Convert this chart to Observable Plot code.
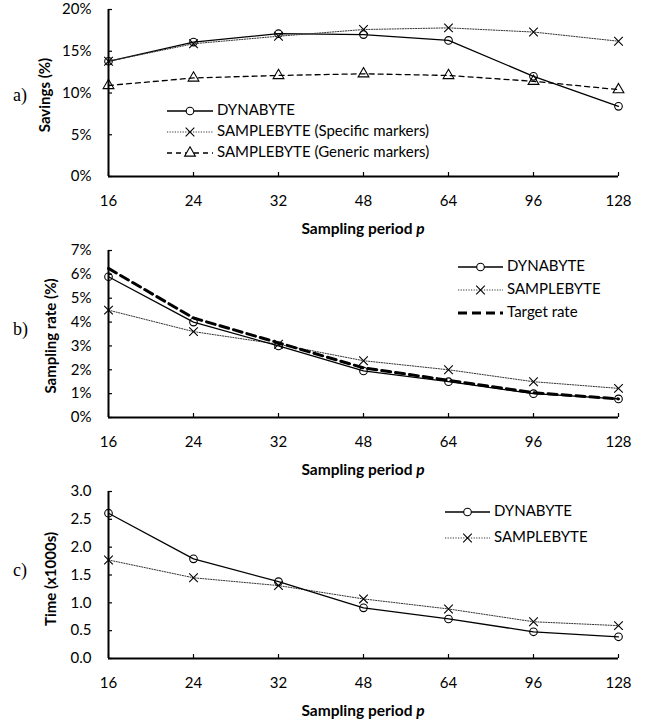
<!DOCTYPE html>
<html><head><meta charset="utf-8">
<script src="https://cdn.jsdelivr.net/npm/d3@7"></script>
<script src="https://cdn.jsdelivr.net/npm/@observablehq/plot@0.6"></script>
<style>
body{margin:0;background:#fff;}
#chart{width:647px;}
svg{display:block;font-family:Lato,"Open Sans",sans-serif;}
</style></head><body><div id="chart"></div>
<script>
const periods = [16, 24, 32, 48, 64, 96, 128];

const savingsDyna     = [13.8, 16.1, 17.1, 17.0, 16.3, 12.0, 8.4];
const savingsSpecific = [13.8, 15.9, 16.8, 17.6, 17.8, 17.3, 16.2];
const savingsGeneric  = [10.9, 11.8, 12.1, 12.3, 12.1, 11.4, 10.4];

const rateDyna   = [5.9, 4.0, 3.0, 1.95, 1.5, 1.0, 0.78];
const rateSample = [4.5, 3.6, 3.07, 2.38, 2.0, 1.5, 1.22];
const rateTarget = [6.25, 4.17, 3.13, 2.08, 1.56, 1.04, 0.78];

const timeDyna   = [2.61, 1.79, 1.38, 0.91, 0.71, 0.48, 0.39];
const timeSample = [1.77, 1.45, 1.31, 1.07, 0.89, 0.66, 0.59];

const savingsTicks = [0, 5, 10, 15, 20];
const rateTicks = [0, 1, 2, 3, 4, 5, 6, 7];
const timeTicks = [0, 0.5, 1, 1.5, 2, 2.5, 3];

const xLabels = periods.map(String);

const STYLES = {
  dyna:    {dash: null, width: 1.3, symbol: "circle", r: 3.8, color: "#000"},
  sample:  {dash: "1.2,1.4", width: 1, symbol: "times", r: 4, color: "#333"},
  generic: {dash: "5,4", width: 1.3, symbol: "triangle", r: 4, color: "#000"},
  target:  {dash: "9,5", width: 3, symbol: null, r: 0, color: "#000"}
};

const W = 647, H = 241, ML = 108, MR = 29, MT = 9, MB = 65;
const FONT = "Lato, 'Open Sans', sans-serif";

function panel(cfg) {
  const marks = [
    Plot.axisX({tickSize: 0, tickPadding: 19, fontSize: 15, label: null}),
    Plot.axisX({text: null, tickSize: 4, dy: -4, strokeWidth: 1.2, label: null}),
    Plot.axisY(cfg.yTicks, {tickSize: 0, tickPadding: 17, fontSize: 15, tickFormat: cfg.yFormat, label: null}),
    Plot.axisY(cfg.yTicks, {text: null, tickSize: 4, dx: 4, strokeWidth: 1.2, label: null}),
    Plot.ruleX([xLabels[0]], {strokeWidth: 2}),
    Plot.ruleY([0], {strokeWidth: 2})
  ];
  for (const s of cfg.series) {
    const st = STYLES[s.style];
    const rows = s.values.map((v, i) => ({p: xLabels[i], v}));
    marks.push(Plot.line(rows, {x: "p", y: "v", stroke: st.color, strokeWidth: st.width, strokeDasharray: st.dash}));
    if (st.symbol) marks.push(Plot.dot(rows, {x: "p", y: "v", symbol: st.symbol, r: st.r, stroke: "#000", fill: "none", strokeWidth: 1.1}));
  }
  const svg = Plot.plot({
    width: W, height: H, marginLeft: ML, marginRight: MR, marginTop: MT, marginBottom: MB,
    style: {fontFamily: FONT, background: "#fff", color: "#000"},
    x: {type: "point", domain: xLabels, padding: 0},
    y: {domain: cfg.yDomain},
    marks
  });
  const s = d3.select(svg);
  // y title
  s.append("text").attr("transform", `translate(${cfg.yTitleX},${cfg.yTitleY}) rotate(-90)`)
    .attr("text-anchor", "middle").attr("dominant-baseline", "middle")
    .attr("font-weight", "bold").attr("font-size", 15).attr("fill", "#000").text(cfg.yTitle);
  // x title
  const xt = s.append("text").attr("x", (ML + W - MR) / 2).attr("y", 230)
    .attr("text-anchor", "middle").attr("dominant-baseline", "middle")
    .attr("font-weight", "bold").attr("font-size", 15.5).attr("fill", "#000");
  xt.append("tspan").text("Sampling period ");
  xt.append("tspan").attr("font-style", "italic").text("p");
  // panel tag
  s.append("text").attr("x", 13).attr("y", cfg.tagY).attr("dominant-baseline", "middle")
    .attr("text-anchor", "start")
    .attr("font-family", "'Liberation Serif', 'DejaVu Serif', serif").attr("font-size", 18)
    .attr("fill", "#000").text(cfg.tag);
  // legend
  const lg = s.append("g");
  cfg.legend.items.forEach((it, i) => {
    const st = STYLES[it.style];
    const y = cfg.legend.ys[i];
    const {x1, x2, tx} = cfg.legend;
    lg.append("line").attr("x1", x1).attr("x2", x2).attr("y1", y).attr("y2", y)
      .attr("stroke", st.color).attr("stroke-width", st.width)
      .attr("stroke-dasharray", st.dash);
    if (st.symbol) {
      const sym = {circle: d3.symbolCircle, times: d3.symbolTimes, triangle: d3.symbolTriangle}[st.symbol];
      lg.append("path").attr("transform", `translate(${(x1 + x2) / 2},${y})`)
        .attr("d", d3.symbol(sym, Math.PI * st.r * st.r)())
        .attr("fill", "#fff").attr("stroke", "#000").attr("stroke-width", 1.1);
    }
    lg.append("text").attr("x", tx).attr("y", y).attr("dominant-baseline", "middle")
      .attr("text-anchor", "start")
      .attr("font-size", 15).attr("fill", "#000").text(it.label);
  });
  document.getElementById("chart").appendChild(svg);
}

panel({
  series: [
    {values: savingsDyna, style: "dyna"},
    {values: savingsSpecific, style: "sample"},
    {values: savingsGeneric, style: "generic"}
  ],
  yDomain: [0, 20], yTicks: savingsTicks, yFormat: d => d + "%",
  yTitle: "Savings (%)", yTitleX: 46, yTitleY: 95, tag: "a)", tagY: 97,
  legend: {x1: 167, x2: 213, tx: 217, ys: [111, 132, 153], items: [
    {label: "DYNABYTE", style: "dyna"},
    {label: "SAMPLEBYTE (Specific markers)", style: "sample"},
    {label: "SAMPLEBYTE (Generic markers)", style: "generic"}
  ]}
});

panel({
  series: [
    {values: rateSample, style: "sample"},
    {values: rateTarget, style: "target"},
    {values: rateDyna, style: "dyna"}
  ],
  yDomain: [0, 7], yTicks: rateTicks, yFormat: d => d + "%",
  yTitle: "Sampling rate (%)", yTitleX: 52, yTitleY: 95, tag: "b)", tagY: 90,
  legend: {x1: 458, x2: 503, tx: 507, ys: [26, 49, 72], items: [
    {label: "DYNABYTE", style: "dyna"},
    {label: "SAMPLEBYTE", style: "sample"},
    {label: "Target rate", style: "target"}
  ]}
});

panel({
  series: [
    {values: timeSample, style: "sample"},
    {values: timeDyna, style: "dyna"}
  ],
  yDomain: [0, 3], yTicks: timeTicks, yFormat: d3.format(".1f"),
  yTitle: "Time (x1000s)", yTitleX: 52, yTitleY: 97, tag: "c)", tagY: 90,
  legend: {x1: 445, x2: 490, tx: 494, ys: [30, 56], items: [
    {label: "DYNABYTE", style: "dyna"},
    {label: "SAMPLEBYTE", style: "sample"}
  ]}
});
</script></body></html>
